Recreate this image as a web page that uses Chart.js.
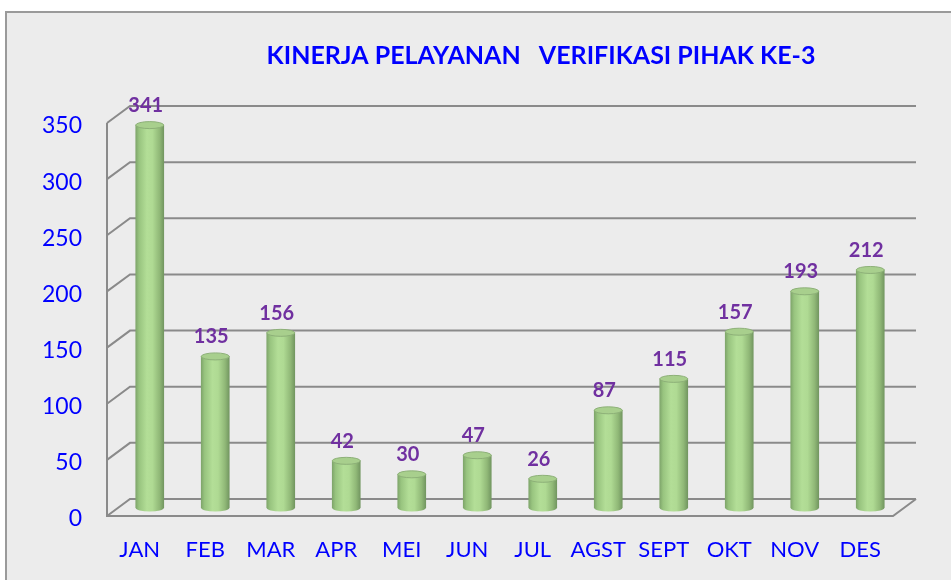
<!DOCTYPE html>
<html><head><meta charset="utf-8">
<script src="https://cdn.jsdelivr.net/npm/chart.js@4.4.1/dist/chart.umd.min.js"></script>
<style>
html,body{margin:0;padding:0;background:#fff;width:951px;height:580px;overflow:hidden}
#frame{position:absolute;left:5px;top:11px;width:960px;height:600px;background:#ececec;border-left:2px solid #9a9a9a;border-top:2px solid #9a9a9a;}
#wrap{position:absolute;left:0;top:0;width:951px;height:580px}
</style></head><body>
<div id="frame"></div>
<div id="wrap"><canvas id="c" width="951" height="580"></canvas></div>
<script>
const categories = ['JAN','FEB','MAR','APR','MEI','JUN','JUL','AGST','SEPT','OKT','NOV','DES'];
const values = [341,135,156,42,30,47,26,87,115,157,193,212];
const yTicks = [0,50,100,150,200,250,300,350];
const chartTitle = 'KINERJA PELAYANAN   VERIFIKASI PIHAK KE-3';

const DEPTH_X = 23, DEPTH_Y = -17;   // back wall offset
const BAR_DX = 10, BAR_DY = -8;      // bar plane offset
const CAP_RY = 3.5;

function barGradient(ctx, x, w) {
  const g = ctx.createLinearGradient(x - w/2, 0, x + w/2, 0);
  g.addColorStop(0, '#7fa66b');
  g.addColorStop(0.12, '#98c47f');
  g.addColorStop(0.4, '#b3de97');
  g.addColorStop(0.6, '#afda93');
  g.addColorStop(0.85, '#90b877');
  g.addColorStop(1, '#739761');
  return g;
}

const frame3d = {
  id: 'frame3d',
  beforeDatasetsDraw(chart) {
    const ctx = chart.ctx, y = chart.scales.y, a = chart.chartArea;
    ctx.save();
    ctx.strokeStyle = '#8a8a8a';
    ctx.lineWidth = 2;
    yTicks.forEach(v => {
      const py = y.getPixelForValue(v);
      ctx.beginPath();
      ctx.moveTo(a.left, py);
      ctx.lineTo(a.left + DEPTH_X, py + DEPTH_Y);
      ctx.lineTo(a.right + DEPTH_X, py + DEPTH_Y);
      ctx.stroke();
    });
    const top = y.getPixelForValue(yTicks[yTicks.length-1]);
    const bot = y.getPixelForValue(0);
    ctx.beginPath();
    ctx.moveTo(a.left, top);
    ctx.lineTo(a.left, bot);
    ctx.lineTo(a.right, bot);
    ctx.lineTo(a.right + DEPTH_X, bot + DEPTH_Y);
    ctx.stroke();
    ctx.restore();
    ctx.save();
    ctx.translate(BAR_DX, BAR_DY);
    const meta = chart.getDatasetMeta(0);
    meta.data.forEach(el => {
      const w = el.width;
      ctx.fillStyle = barGradient(ctx, el.x, w);
      ctx.beginPath();
      ctx.ellipse(el.x, el.base, w/2, CAP_RY, 0, 0, Math.PI);
      ctx.fill();
    });
  },
  afterDatasetsDraw(chart) {
    const ctx = chart.ctx;
    const meta = chart.getDatasetMeta(0);
    meta.data.forEach(el => {
      const w = el.width;
      ctx.fillStyle = '#a8cf8d';
      ctx.strokeStyle = '#8db078';
      ctx.lineWidth = 1;
      ctx.beginPath();
      ctx.ellipse(el.x, el.y, w/2, CAP_RY, 0, 0, Math.PI*2);
      ctx.fill();
      ctx.stroke();
    });
    ctx.restore();
    ctx.save();
    ctx.font = 'bold 20px Lato';
    ctx.fillStyle = '#7030a0';
    ctx.textAlign = 'center';
    ctx.textBaseline = 'alphabetic';
    meta.data.forEach((el, i) => {
      ctx.fillText(String(values[i]), el.x + 6, el.y - 21);
    });
    ctx.restore();
  },
  afterDraw(chart) {
    const ctx = chart.ctx;
    ctx.save();
    ctx.font = 'bold 25px Lato';
    ctx.fillStyle = '#0000ff';
    ctx.textAlign = 'center';
    ctx.textBaseline = 'alphabetic';
    ctx.fillText(chartTitle, 541, 64);
    ctx.restore();
  }
};

const chart = new Chart(document.getElementById('c'), {
  type: 'bar',
  data: {
    labels: categories,
    datasets: [{
      data: values,
      barThickness: 28,
      backgroundColor: (c) => {
        const el = c.chart.getDatasetMeta(0).data[c.dataIndex];
        if (!el || typeof el.x !== 'number' || isNaN(el.x)) return '#aedb92';
        return barGradient(c.chart.ctx, el.x, 28);
      },
      borderWidth: 0
    }]
  },
  plugins: [frame3d],
  options: {
    responsive: false,
    devicePixelRatio: 1,
    animation: false,
    events: [],
    layout: { padding: { top: 123, right: 58, left: 0, bottom: 0 } },
    plugins: { legend: { display: false }, title: { display: false }, tooltip: { enabled: false } },
    scales: {
      x: {
        grid: { display: false },
        border: { display: false },
        ticks: { color: '#0000ff', font: { family: 'Lato', size: 22 }, padding: 13, maxRotation: 0, autoSkip: false },
        afterFit: s => { s.height = 64; }
      },
      y: {
        min: 0, max: 350,
        grid: { display: false },
        border: { display: false },
        afterBuildTicks: s => { s.ticks = yTicks.map(v => ({ value: v })); },
        ticks: { color: '#0000ff', font: { family: 'Lato', size: 23 }, padding: 17, labelOffset: 3 },
        afterFit: s => { s.width = 107; }
      }
    }
  }
});
chart.update('none');
</script>
</body></html>
